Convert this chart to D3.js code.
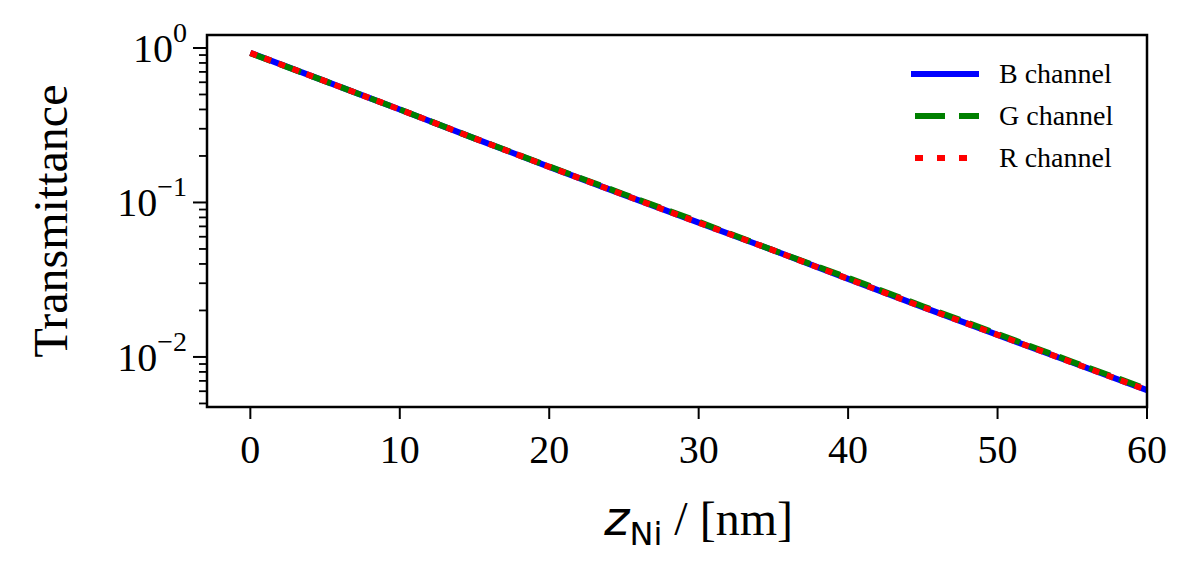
<!DOCTYPE html>
<html><head><meta charset="utf-8">
<script src="https://cdn.jsdelivr.net/npm/d3@7"></script>
<style>body{margin:0;background:#fff}</style>
</head><body>
<svg id="chart" width="1196" height="577"></svg>
<script>
// thickness of Ni layer (nm) and transmittance per channel
const zNi = [0, 5, 10, 15, 20, 25, 30, 35, 40, 45, 50, 55, 60];
const bChannel = [0.93, 0.61, 0.40, 0.26, 0.17, 0.112, 0.074, 0.049, 0.032, 0.021, 0.0139, 0.0092, 0.0061];
const gChannel = [0.925, 0.61, 0.40, 0.26, 0.171, 0.113, 0.075, 0.049, 0.0325, 0.0213, 0.0141, 0.0093, 0.0062];
const rChannel = [0.93, 0.61, 0.40, 0.26, 0.17, 0.112, 0.074, 0.049, 0.032, 0.021, 0.0139, 0.0092, 0.0061];
const xTicks = [0, 10, 20, 30, 40, 50, 60];
const yTicks = [1, 0.1, 0.01];
const yExp = ["0", "\u22121", "\u22122"];

const margin = {top: 35, right: 49, bottom: 170, left: 207};
const width = 1196 - margin.left - margin.right,
      height = 577 - margin.top - margin.bottom;

const svg = d3.select("#chart");
const g = svg.append("g").attr("transform", `translate(${margin.left},${margin.top})`);

const x = d3.scaleLinear().domain([-2.9, 60]).range([0, width]);
const y = d3.scaleLog().domain([Math.pow(10, -2.324), Math.pow(10, 0.084)]).range([height, 0]);

const series = [
  {name: "B channel", vals: bChannel, color: "#0000ff", dash: null},
  {name: "G channel", vals: gChannel, color: "#008000", dash: "22,10"},
  {name: "R channel", vals: rChannel, color: "#ff0000", dash: "7,8"}
];

const line = d3.line().x(d => x(d[0])).y(d => y(d[1]));
series.forEach(s => {
  g.append("path")
    .datum(zNi.map((z, i) => [z, s.vals[i]]))
    .attr("fill", "none")
    .attr("stroke", s.color)
    .attr("stroke-width", 6)
    .attr("stroke-dasharray", s.dash)
    .attr("d", line);
});

// minor log ticks
const minor = [];
[0.001, 0.01, 0.1].forEach(d => { for (let k = 2; k <= 9; k++) minor.push(d * k); });
const yDom = y.domain();
g.selectAll(".minor").data(minor.filter(v => v >= yDom[0] && v <= yDom[1])).enter()
  .append("line")
  .attr("x1", -8).attr("x2", 0)
  .attr("y1", d => y(d)).attr("y2", d => y(d))
  .attr("stroke", "#000").attr("stroke-width", 1.8);

g.selectAll(".major").data(yTicks).enter().append("line")
  .attr("x1", -14).attr("x2", 0)
  .attr("y1", d => y(d)).attr("y2", d => y(d))
  .attr("stroke", "#000").attr("stroke-width", 2);

const yl = g.selectAll(".ylab").data(yTicks).enter().append("text")
  .attr("x", -20).attr("y", d => y(d) + 14)
  .attr("text-anchor", "end")
  .style("font-family", "Liberation Serif").style("font-size", "40px");
yl.append("tspan").text("10");
yl.append("tspan").attr("dy", -20).style("font-size", "28px").text((d, i) => yExp[i]);

g.selectAll(".xt").data(xTicks).enter().append("line")
  .attr("x1", d => x(d)).attr("x2", d => x(d))
  .attr("y1", height).attr("y2", height + 12)
  .attr("stroke", "#000").attr("stroke-width", 2);
g.selectAll(".xl").data(xTicks).enter().append("text")
  .attr("x", d => x(d)).attr("y", height + 56)
  .attr("text-anchor", "middle")
  .style("font-family", "Liberation Serif").style("font-size", "40px")
  .text(d => d);

g.append("rect").attr("width", width).attr("height", height)
  .attr("fill", "none").attr("stroke", "#000").attr("stroke-width", 2.5);

// axis titles
g.append("text")
  .attr("transform", `translate(-140,${height / 2}) rotate(-90)`)
  .attr("text-anchor", "middle")
  .style("font-family", "Liberation Serif").style("font-size", "48px")
  .text("Transmittance");

const xt = g.append("text")
  .attr("x", x(30)).attr("y", height + 128)
  .attr("text-anchor", "middle")
  .style("font-family", "Liberation Serif").style("font-size", "48px");
xt.append("tspan").style("font-family", "DejaVu Sans").style("font-style", "italic").text("z");
xt.append("tspan").attr("dy", 10).style("font-family", "DejaVu Sans").style("font-size", "32px").text("Ni");
xt.append("tspan").attr("dy", -10).text(" / [nm]");

// legend
const leg = g.append("g").attr("transform", `translate(${911 - margin.left},${74 - margin.top})`);
series.forEach((s, i) => {
  leg.append("line")
    .attr("x1", 0).attr("x2", 68)
    .attr("y1", i * 42).attr("y2", i * 42)
    .attr("stroke", s.color).attr("stroke-width", 6)
    .attr("stroke-dasharray", s.dash ? (i === 1 ? "30,14" : "8,14") : null)
    .attr("stroke-dashoffset", i === 1 ? -4 : -4);
  leg.append("text")
    .attr("x", 88).attr("y", i * 42 + 9)
    .style("font-family", "Liberation Serif").style("font-size", "28px")
    .text(s.name);
});
</script>
</body></html>
